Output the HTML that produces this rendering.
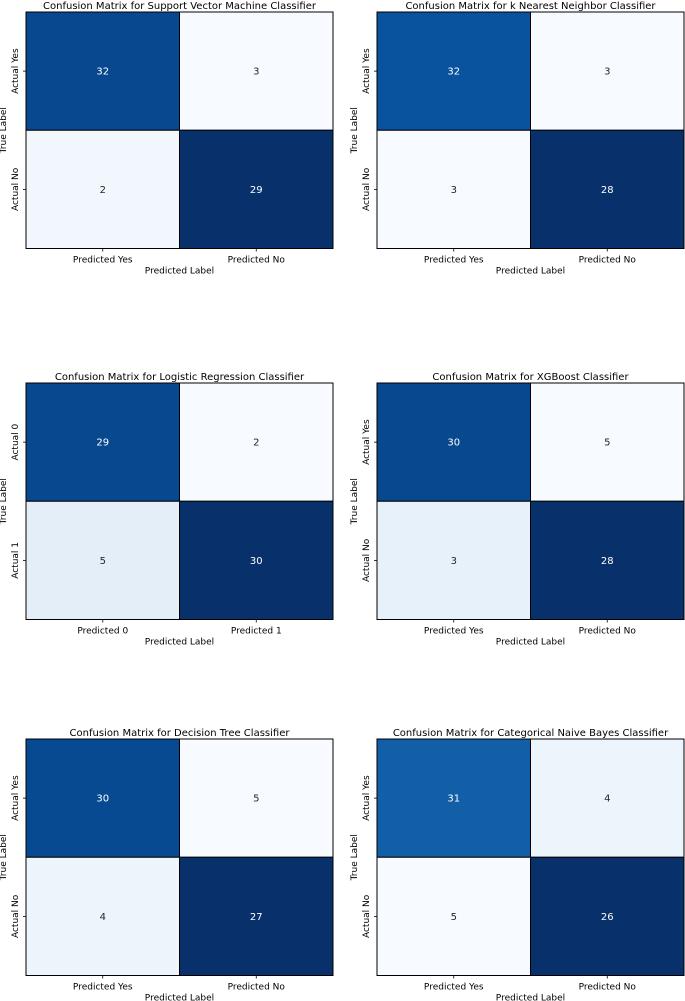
<!DOCTYPE html>
<html><head><meta charset="utf-8"><style>
body{margin:0;background:#fff;}
svg{display:block;font-family:"DejaVu Sans","Liberation Sans",sans-serif;}
</style></head><body>
<svg id="fig" width="685" height="1001" viewBox="0 0 685 1001" xmlns="http://www.w3.org/2000/svg"></svg>
<script>
const titles = ["Support Vector Machine Classifier","k Nearest Neighbor Classifier","Logistic Regression Classifier","XGBoost Classifier","Decision Tree Classifier","Categorical Naive Bayes Classifier"];
const values = [[32,3,2,29],[32,3,3,28],[29,2,5,30],[30,5,3,28],[30,5,4,27],[31,4,5,26]];
const shades = [[0.91,0,0.03,1],[0.87,0,0,1],[0.91,0,0.1,1],[0.91,0,0.08,1],[0.9,0,0.05,1],[0.82,0.05,0,1]];
const xTicks = [["Predicted Yes","Predicted No"],["Predicted Yes","Predicted No"],["Predicted 0","Predicted 1"],["Predicted Yes","Predicted No"],["Predicted Yes","Predicted No"],["Predicted Yes","Predicted No"]];
const yTicks = [["Actual Yes","Actual No"],["Actual Yes","Actual No"],["Actual 0","Actual 1"],["Actual Yes","Actual No"],["Actual Yes","Actual No"],["Actual Yes","Actual No"]];

const stops=["#f7fbff","#deebf7","#c6dbef","#9ecae1","#6baed6","#4292c6","#2171b5","#08519c","#08306b"];
function blues(t){t=Math.max(0,Math.min(1,t));const p=t*8,i=Math.min(7,Math.floor(p)),f=p-i;
 const a=stops[i],b=stops[i+1];const c=k=>Math.round(parseInt(a.substr(k,2),16)*(1-f)+parseInt(b.substr(k,2),16)*f);
 return `rgb(${c(1)},${c(3)},${c(5)})`;}
const NS="http://www.w3.org/2000/svg", svg=document.getElementById('fig');
function mk(tag,attrs,parent,txt){const e=document.createElementNS(NS,tag);for(const k in attrs)e.setAttribute(k,attrs[k]);if(txt!==undefined)e.textContent=txt;parent.appendChild(e);return e;}
const X0=[26,377],Y0=[12,383,739],W=307,H=236.5;
titles.forEach((title,m)=>{
 const x0=X0[m%2],y0=Y0[Math.floor(m/2)];
 const g=mk('g',{},svg);
 
 
 const xs=j=>x0+j*W/2, ys=i=>y0+i*H/2;
 values[m].forEach((v,k)=>{
  const i=Math.floor(k/2),j=k%2,s=shades[m][k];
  const r=mk('rect',{x:xs(j),y:ys(i),width:W/2,height:H/2,fill:blues(s),stroke:'#000','stroke-width':1},g);
  
  
  const t=mk('text',{x:xs(j)+W/4,y:ys(i)+H/4+3.5,'text-anchor':'middle','font-size':10,fill:s>0.5?'#fff':'#262626'},g,String(v));
  
  
 });
 mk('line',{x1:x0,y1:y0,x2:x0,y2:y0+H,stroke:'#000','stroke-width':1},g);
 const tt=mk('text',{x:x0+W/2,y:y0-3,'text-anchor':'middle','font-size':10,fill:'#000'},g,'Confusion Matrix for '+title);
 
 
 xTicks[m].forEach((l,j)=>{
  mk('line',{x1:xs(j)+W/4,y1:y0+H,x2:xs(j)+W/4,y2:y0+H+3,stroke:'#000','stroke-width':0.8},g);
  const t=mk('text',{x:xs(j)+W/4,y:y0+H+14,'text-anchor':'middle','font-size':9,fill:'#000'},g,l);
  
  
 });
 yTicks[m].forEach((l,i)=>{
  const cy=ys(i)+H/4;
  mk('line',{x1:x0-3,y1:cy,x2:x0,y2:cy,stroke:'#000','stroke-width':0.8},g);
  const t=mk('text',{x:x0-8,y:cy,'text-anchor':'middle','font-size':9,fill:'#000',transform:`rotate(-90 ${x0-8} ${cy})`},g,l);
  
  
 });
 const xl=mk('text',{x:x0+W/2,y:y0+H+25,'text-anchor':'middle','font-size':9,fill:'#000'},g,'Predicted Label');
 
 
 const yl=mk('text',{x:x0-20,y:y0+H/2,'text-anchor':'middle','font-size':9,fill:'#000',transform:`rotate(-90 ${x0-20} ${y0+H/2})`},g,'True Label');
 
 
});
</script>
</body></html>
